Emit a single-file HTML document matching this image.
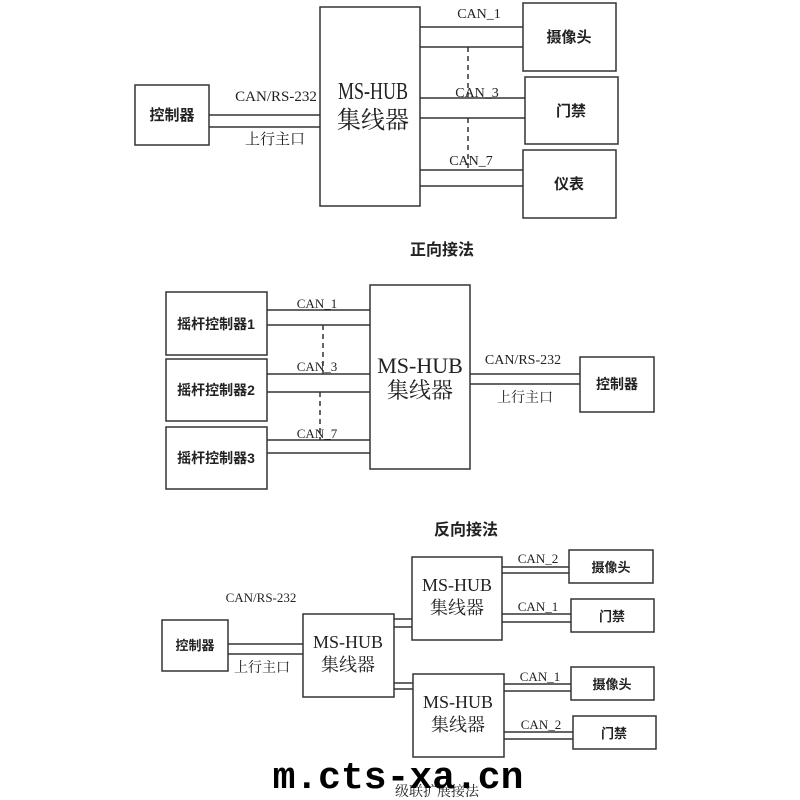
<!DOCTYPE html>
<html><head><meta charset="utf-8"><style>
body{margin:0;background:#fff;}
svg{display:block}
text{font-family:"Liberation Serif","Noto Serif CJK SC",serif;fill:#222}
.b{font-family:"Liberation Sans","Noto Sans CJK SC",sans-serif;font-weight:bold}
</style></head><body>
<svg width="800" height="800" viewBox="0 0 800 800" xmlns="http://www.w3.org/2000/svg">
<g fill="none" stroke="#333" stroke-width="1.5">
<rect x="135" y="85" width="74" height="60"/>
<rect x="320" y="7" width="100" height="199"/>
<rect x="523" y="3" width="93" height="68"/>
<rect x="525" y="77" width="93" height="67"/>
<rect x="523" y="150" width="93" height="68"/>
<path d="M209 115H320M209 127H320M420 27H523M420 47H523M420 98H525M420 118H525M420 170H523M420 186H523"/>
<path d="M468 47V98M468 118V170" stroke-dasharray="5,4"/>
<rect x="166" y="292" width="101" height="63"/>
<rect x="166" y="359" width="101" height="62"/>
<rect x="166" y="427" width="101" height="62"/>
<rect x="370" y="285" width="100" height="184"/>
<rect x="580" y="357" width="74" height="55"/>
<path d="M267 310H370M267 325H370M267 374H370M267 392H370M267 440H370M267 453H370M470 374H580M470 384H580"/>
<path d="M323 325V374M320 392V440" stroke-dasharray="5,4"/>
<rect x="162" y="620" width="66" height="51"/>
<rect x="303" y="614" width="91" height="83"/>
<rect x="412" y="557" width="90" height="83"/>
<rect x="413" y="674" width="91" height="83"/>
<rect x="569" y="550" width="84" height="33"/>
<rect x="571" y="599" width="83" height="33"/>
<rect x="571" y="667" width="83" height="33"/>
<rect x="573" y="716" width="83" height="33"/>
<path d="M228 644H303M228 654H303M394 619H412M394 627H412M394 683H413M394 689H413M502 567H569M502 573H569M502 614H571M502 622H571M504 684H571M504 691H571M504 732H573M504 739H573"/>
</g>
<text x="172" y="120" class="b" font-size="15" text-anchor="middle">控制器</text>
<text x="276" y="101" font-size="15" text-anchor="middle">CAN/RS-232</text>
<text x="275" y="144" font-size="15" text-anchor="middle">上行主口</text>
<text x="373" y="99" font-size="24" text-anchor="middle" textLength="70" lengthAdjust="spacingAndGlyphs">MS-HUB</text>
<text x="373" y="128" font-size="24" text-anchor="middle">集线器</text>
<text x="479" y="18" font-size="14" text-anchor="middle">CAN_1</text>
<text x="477" y="97" font-size="14" text-anchor="middle">CAN_3</text>
<text x="471" y="165" font-size="14" text-anchor="middle">CAN_7</text>
<text x="569" y="42" class="b" font-size="15" text-anchor="middle">摄像头</text>
<text x="571" y="116" class="b" font-size="15" text-anchor="middle">门禁</text>
<text x="569" y="189" class="b" font-size="15" text-anchor="middle">仪表</text>
<text x="442" y="255" class="b" font-size="16" text-anchor="middle">正向接法</text>
<text x="216" y="329" class="b" font-size="14" text-anchor="middle">摇杆控制器1</text>
<text x="216" y="395" class="b" font-size="14" text-anchor="middle">摇杆控制器2</text>
<text x="216" y="463" class="b" font-size="14" text-anchor="middle">摇杆控制器3</text>
<text x="317" y="308" font-size="13" text-anchor="middle">CAN_1</text>
<text x="317" y="371" font-size="13" text-anchor="middle">CAN_3</text>
<text x="317" y="438" font-size="13" text-anchor="middle">CAN_7</text>
<text x="420" y="373" font-size="22" text-anchor="middle">MS-HUB</text>
<text x="420" y="398" font-size="22" text-anchor="middle">集线器</text>
<text x="523" y="364" font-size="14" text-anchor="middle">CAN/RS-232</text>
<text x="525" y="402" font-size="14" text-anchor="middle">上行主口</text>
<text x="617" y="389" class="b" font-size="14" text-anchor="middle">控制器</text>
<text x="466" y="535" class="b" font-size="16" text-anchor="middle">反向接法</text>
<text x="261" y="602" font-size="13" text-anchor="middle">CAN/RS-232</text>
<text x="262" y="672" font-size="14" text-anchor="middle">上行主口</text>
<text x="195" y="650" class="b" font-size="13" text-anchor="middle">控制器</text>
<text x="348" y="648" font-size="18" text-anchor="middle">MS-HUB</text>
<text x="348" y="671" font-size="18" text-anchor="middle">集线器</text>
<text x="457" y="591" font-size="18" text-anchor="middle">MS-HUB</text>
<text x="457" y="614" font-size="18" text-anchor="middle">集线器</text>
<text x="458" y="708" font-size="18" text-anchor="middle">MS-HUB</text>
<text x="458" y="731" font-size="18" text-anchor="middle">集线器</text>
<text x="538" y="563" font-size="13" text-anchor="middle">CAN_2</text>
<text x="538" y="611" font-size="13" text-anchor="middle">CAN_1</text>
<text x="540" y="681" font-size="13" text-anchor="middle">CAN_1</text>
<text x="541" y="729" font-size="13" text-anchor="middle">CAN_2</text>
<text x="611" y="572" class="b" font-size="13" text-anchor="middle">摄像头</text>
<text x="612" y="621" class="b" font-size="13" text-anchor="middle">门禁</text>
<text x="612" y="689" class="b" font-size="13" text-anchor="middle">摄像头</text>
<text x="614" y="738" class="b" font-size="13" text-anchor="middle">门禁</text>
<text x="437" y="796" font-size="14" text-anchor="middle">级联扩展接法</text>
<text x="398" y="788" font-weight="bold" font-size="38" text-anchor="middle" style="font-family:'Liberation Mono',monospace;fill:#000">m.cts-xa.cn</text>
</svg>
</body></html>
